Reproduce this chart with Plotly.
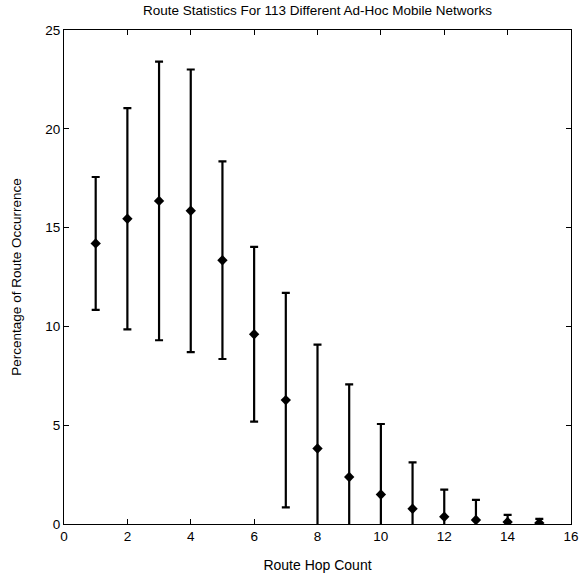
import plotly.graph_objects as go

hops = [1, 2, 3, 4, 5, 6, 7, 8, 9, 10, 11, 12, 13, 14, 15]
mean_pct = [14.2, 15.45, 16.35, 15.85, 13.35, 9.6, 6.27, 3.82, 2.38, 1.49, 0.77, 0.37, 0.2, 0.1, 0.05]
err_pct = [3.36, 5.6, 7.05, 7.15, 5.0, 4.42, 5.43, 5.26, 4.69, 3.57, 2.35, 1.37, 1.02, 0.36, 0.21]

x_ticks = [0, 2, 4, 6, 8, 10, 12, 14, 16]
y_ticks = [0, 5, 10, 15, 20, 25]

FONT = "Liberation Sans, Arial, sans-serif"

fig = go.Figure()
fig.add_trace(go.Scatter(
    x=hops, y=mean_pct, mode="markers",
    marker=dict(symbol="diamond", size=8, color="black"),
    error_y=dict(type="data", array=err_pct, visible=True,
                 color="black", thickness=2.2, width=4),
    showlegend=False,
))

axis_common = dict(
    showline=True, linecolor="black", linewidth=1, mirror="ticks",
    ticks="inside", ticklen=5, tickcolor="black", tickwidth=1,
    showgrid=False, zeroline=False, automargin=False,
    tickfont=dict(family=FONT, size=13.5, color="black"),
)

fig.update_layout(
    width=580, height=575,
    margin=dict(l=64, r=9, t=30, b=51),
    paper_bgcolor="white", plot_bgcolor="white",
    title=dict(text="Route Statistics For 113 Different Ad-Hoc Mobile Networks",
               x=(64 + 571) / 2 / 580, xanchor="center", y=0.983, yanchor="middle",
               font=dict(family=FONT, size=13.5, color="black")),
    xaxis=dict(range=[0, 16], tickvals=x_ticks,
               title=dict(text="Route Hop Count", standoff=16,
                          font=dict(family=FONT, size=14, color="black")),
               **axis_common),
    yaxis=dict(range=[0, 25], tickvals=y_ticks,
               title=dict(text="Percentage of Route Occurrence", standoff=20,
                          font=dict(family=FONT, size=13.5, color="black")),
               **axis_common),
)

fig.write_html("out.html")
